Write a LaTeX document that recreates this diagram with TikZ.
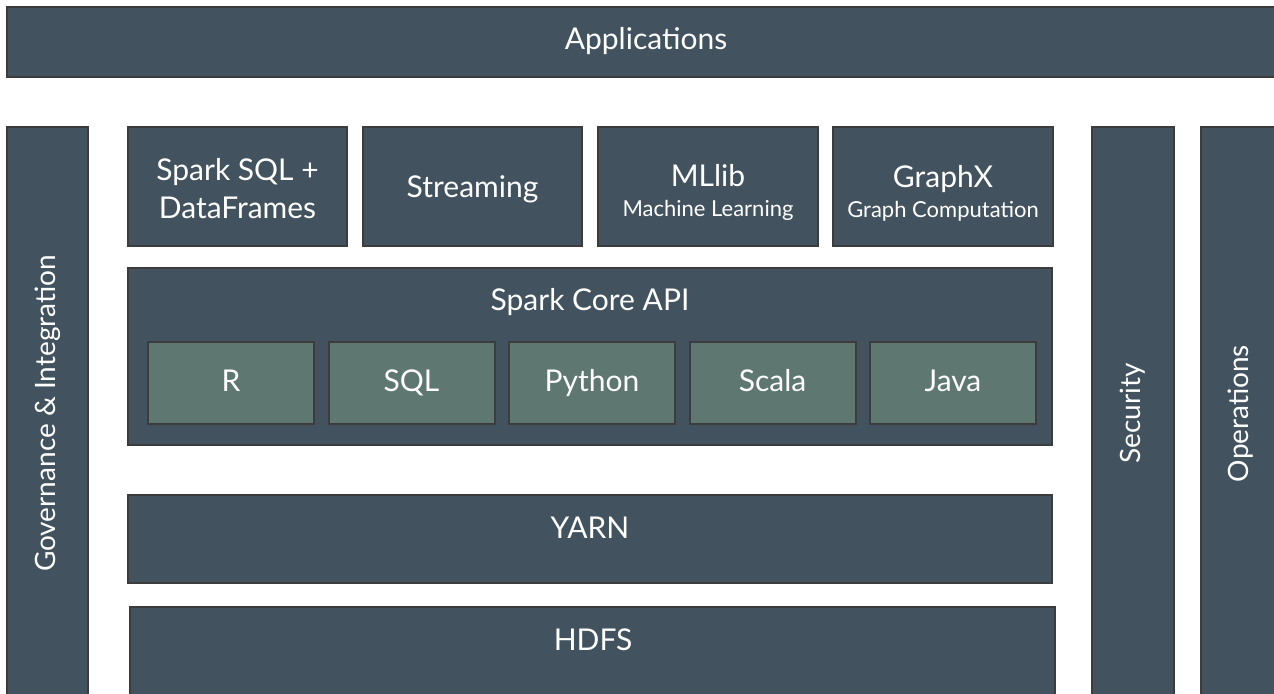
\documentclass[tikz,border=0pt]{standalone}
\usepackage{fontspec}
\setmainfont{Lato}
\definecolor{layer}{HTML}{42535F}
\definecolor{lang}{HTML}{5F7771}
\definecolor{edge}{HTML}{3C3C3C}
\newcommand{\mainsize}{\fontsize{15}{19}\selectfont}
\newcommand{\sidesize}{\fontsize{14}{17}\selectfont}
\newcommand{\subsize}{\fontsize{11}{13}\selectfont}
\tikzset{layer/.style={white,draw=edge,fill=layer,line width=1pt,rectangle,inner sep=0pt,font=\sidesize}}
\tikzset{lang/.style={white,draw=edge,fill=lang,line width=1pt,rectangle,inner sep=0pt,font=\mainsize,text height=11pt,text depth=3pt,minimum width=83pt,minimum height=41pt}}
\tikzset{lbl/.style={white,font=\mainsize,align=center}}

\begin{document}
\begin{tikzpicture}[x=0.5pt,y=-0.5pt]
                \useasboundingbox (0,0) rectangle (1274,693);
                \clip (0,0) rectangle (1274,693);
                \node[layer,minimum width=641.5pt,minimum height=35pt] (apps) at (648.5,42) {};
                \node[lbl] (appslbl) at (646,41) {Applications};
                \node[layer,rotate=90,minimum width=286.5pt,minimum height=40.5pt] (gov) at (47.5,413.5) {Governance \& Integration};
                \node[layer,rotate=90,minimum width=286.5pt,minimum height=41pt] (sec) at (1133,413.5) {Security};
                \node[layer,rotate=90,minimum width=286.5pt,minimum height=39.5pt] (ops) at (1240.5,413.5) {Operations};
                \node[layer,minimum width=109.5pt,minimum height=59.5pt] (sparksql) at (237.5,186.5) {};
                \node[lbl] (sparksqllbl) at (237.5,189) {Spark SQL +\\DataFrames};
                \node[layer,minimum width=109.5pt,minimum height=59.5pt] (streaming) at (472.5,186.5) {};
                \node[lbl] (streaminglbl) at (472.5,189) {Streaming};
                \node[layer,minimum width=110pt,minimum height=59.5pt] (mllib) at (708,186.5) {};
                \node[lbl] (mlliblbl) at (708,192) {MLlib\\[-4pt]{\subsize Machine Learning}};
                \node[layer,minimum width=110pt,minimum height=59.5pt] (graphx) at (943,186.5) {};
                \node[lbl] (graphxlbl) at (943,193) {GraphX\\[-4pt]{\subsize Graph Computation}};
                \node[layer,minimum width=462pt,minimum height=88.5pt] (core) at (590,356.5) {};
                \node[lbl] (corelbl) at (590,302) {Spark Core API};
                \foreach \name [count=\i from 0] in {R,SQL,Python,Scala,Java}
                    \node[lang] (\name) at (231+180.5*\i,383) {\name};
                \node[layer,minimum width=462pt,minimum height=44pt] (yarn) at (590,539) {};
                \node[lbl] (yarnlbl) at (590,528) {YARN};
                \node[layer,minimum width=462.5pt,minimum height=56.5pt] (hdfs) at (592.5,663.5) {};
                \node[lbl] (hdfslbl) at (593,640) {HDFS};
                \end{tikzpicture}
\end{document}
